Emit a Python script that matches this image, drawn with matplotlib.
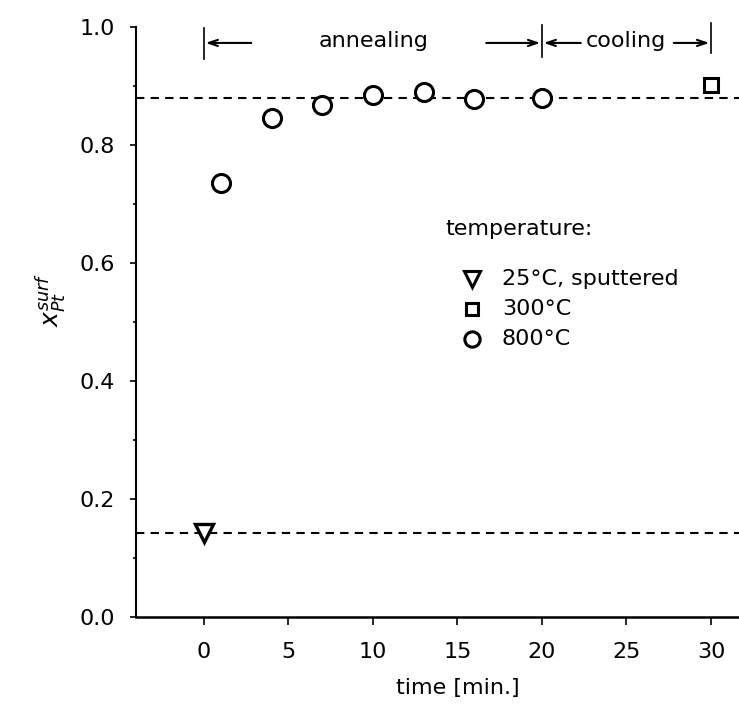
import matplotlib
matplotlib.use('Agg')
import matplotlib.pyplot as plt
import numpy as np

# surface Pt fraction vs time
t_800 = [1, 4, 7, 10, 13, 16, 20]
x_800 = [0.736, 0.846, 0.868, 0.884, 0.889, 0.878, 0.879]
t_300 = [30]
x_300 = [0.902]
t_25 = [0]
x_25 = [0.142]
# guide levels (dashed)
level_high = 0.88
level_low = 0.142

x_ticks = [0, 5, 10, 15, 20, 25, 30]
y_ticks = [0.0, 0.2, 0.4, 0.6, 0.8, 1.0]
legend_labels = ['25°C, sputtered', '300°C', '800°C']

fs = 16
fig = plt.figure(figsize=(7.39, 7.05), dpi=100)
ax = fig.add_axes([0.184, 0.1248, 0.816, 0.8369])

ax.axhline(level_high, color='black', lw=1.5, ls=(0, (4, 3)))
ax.axhline(level_low, color='black', lw=1.5, ls=(0, (4, 3)))

ax.plot(t_800, x_800, 'o', ms=13, mfc='white', mec='black', mew=2.2, ls='none')
ax.plot(t_300, x_300, 's', ms=10.5, mfc='white', mec='black', mew=2.2, ls='none', clip_on=False)
ax.plot(t_25, x_25, 'v', ms=13, mfc='white', mec='black', mew=2.4, ls='none')

ax.set_xlim(-4.02, 31.66)
ax.set_ylim(0, 1.0)
ax.set_xticks(x_ticks)
ax.set_yticks(y_ticks)
ax.set_yticks(np.arange(0.1, 1.0, 0.2), minor=True)
ax.set_yticklabels(['%.1f' % v for v in y_ticks])
ax.tick_params(axis='x', direction='out', length=6, width=1.2, pad=12, labelsize=fs)
ax.tick_params(axis='y', which='major', direction='out', length=4.3, width=1.2, pad=11, labelsize=fs)
ax.tick_params(axis='y', which='minor', direction='out', length=2.2, width=1.2)

for s in ['top', 'right']:
    ax.spines[s].set_visible(False)
ax.spines['left'].set_linewidth(1.5)
ax.spines['bottom'].set_linewidth(1.8)

# axis titles
ax.text((15 + 4.02) / 35.68, -0.12, 'time [min.]', transform=ax.transAxes,
        fontsize=fs, ha='center', va='center')
ax.text(-0.14, 0.537, r'$x_{Pt}^{surf}$', transform=ax.transAxes, rotation=90,
        fontsize=fs + 2, ha='center', va='center')

# annealing / cooling markers
arr = dict(arrowstyle='->,head_length=0.65,head_width=0.22', lw=1.5, color='black',
           shrinkA=0, shrinkB=0)
for xb, y0, y1 in [(0, 0.946, 0.998), (20, 0.949, 1.003), (30, 0.956, 1.007)]:
    ax.plot([xb, xb], [y0, y1], color='black', lw=1.2, clip_on=False)
ya = 0.973
ax.annotate('', xy=(0.1, ya), xytext=(2.8, ya), arrowprops=arr, annotation_clip=False)
ax.text(10.05, 0.976, 'annealing', fontsize=fs, ha='center', va='center')
ax.annotate('', xy=(19.9, ya), xytext=(16.7, ya), arrowprops=arr, annotation_clip=False)
ax.annotate('', xy=(20.1, ya), xytext=(22.3, ya), arrowprops=arr, annotation_clip=False)
ax.text(24.95, 0.976, 'cooling', fontsize=fs, ha='center', va='center')
ax.annotate('', xy=(29.9, ya), xytext=(27.8, ya), arrowprops=arr, annotation_clip=False)

# legend drawn by hand
ax.text(14.26, 0.658, 'temperature:', fontsize=fs, ha='left', va='center')
leg_y = [0.573, 0.522, 0.471]
leg_m = ['v', 's', 'o']
leg_ms = [11, 9, 11]
for yy, m, msz, lab in zip(leg_y, leg_m, leg_ms, legend_labels):
    ax.plot([15.86], [yy], m, ms=msz, mfc='white', mec='black', mew=2.2)
    ax.text(17.63, yy, lab, fontsize=fs, ha='left', va='center')

fig.savefig('out.png', dpi=100)
